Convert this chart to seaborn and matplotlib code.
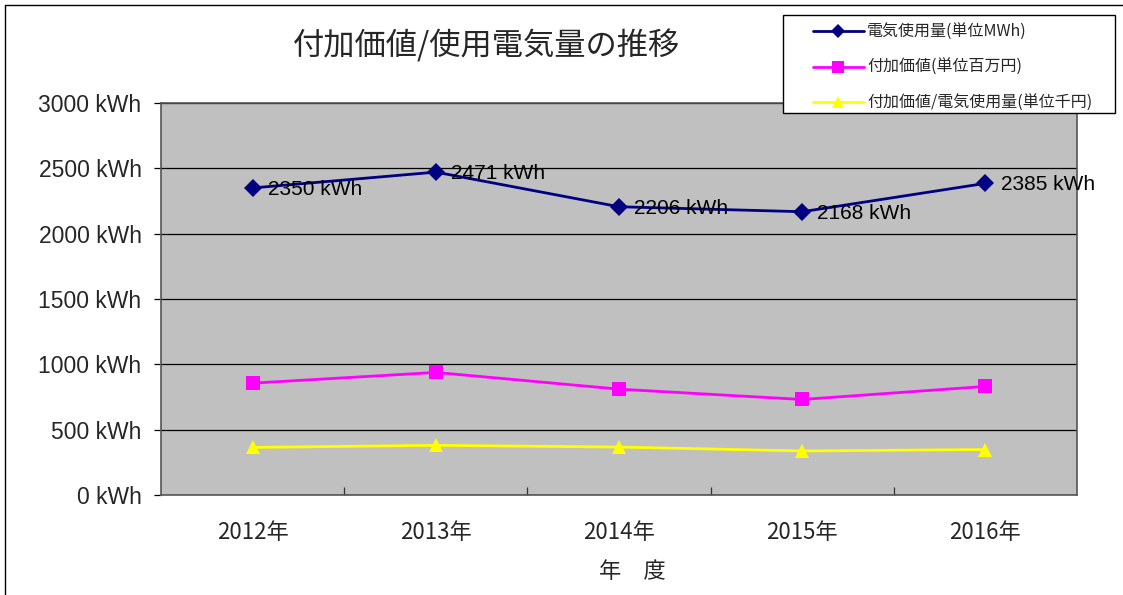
import matplotlib
matplotlib.use("Agg")
import matplotlib.pyplot as plt
import seaborn as sns
import pandas as pd
from matplotlib.ticker import FixedLocator
from matplotlib.lines import Line2D
from matplotlib.patches import Rectangle

# Data
years = ["2012年", "2013年", "2014年", "2015年", "2016年"]
power_use = [2350, 2471, 2206, 2168, 2385]        # 電気使用量(単位MWh)
value_added = [856, 938, 810, 731, 831]           # 付加価値(単位百万円)
value_per_power = [364, 380, 367, 337, 348]       # 付加価値/電気使用量(単位千円)

series_names = ["電気使用量(単位MWh)", "付加価値(単位百万円)", "付加価値/電気使用量(単位千円)"]
series_colors = ["#000080", "#FF00FF", "#FFFF00"]
series_markers = ["D", "s", "^"]
series_sizes = [9, 10, 10]

sns.set_style("white")
plt.rcParams["font.family"] = ["Liberation Sans", "Noto Sans CJK JP"]
jp = ["Noto Sans CJK JP", "Liberation Sans"]

fig = plt.figure(figsize=(11.23, 5.95), dpi=100)
ax = fig.add_axes([161 / 1123, 1 - 495 / 595, (1077 - 161) / 1123, (495 - 103) / 595])
ax.set_facecolor("#C0C0C0")

all_values = [power_use, value_added, value_per_power]
for vals, color, marker, ms in zip(all_values, series_colors, series_markers, series_sizes):
    sns.lineplot(x=years, y=vals, ax=ax, color=color, linewidth=2.0,
                 marker=marker, markersize=ms, markeredgewidth=0, sort=False, zorder=3)

# data labels for electricity use
for i, v in enumerate(power_use):
    ax.annotate(f"{v} kWh", (i, v), xytext=(11, -1), textcoords="offset points",
                ha="left", va="center", fontsize=15, color="black", zorder=4)

ax.set_xlim(-0.5, len(years) - 0.5)
ax.set_ylim(0, 3000)
ax.set_yticks(range(0, 3001, 500))
ax.set_yticklabels([f"{t} kWh" for t in range(0, 3001, 500)])
ax.yaxis.grid(True, color="black", linewidth=0.9)
ax.xaxis.grid(False)
ax.set_axisbelow(True)
ax.tick_params(axis="y", which="major", left=True, direction="out", length=5,
               width=0.9, color="black", pad=9, labelsize=16.5)
ax.tick_params(axis="x", which="major", bottom=False, pad=15, labelsize=16)
for lbl in ax.get_xticklabels():
    lbl.set_family(jp)
ax.xaxis.set_minor_locator(FixedLocator([0.5, 1.5, 2.5, 3.5]))
ax.tick_params(axis="x", which="minor", bottom=True, direction="in", length=6,
               width=0.9, color="#333333")
for side in ["left", "bottom", "right", "top"]:
    ax.spines[side].set_visible(True)
    ax.spines[side].set_color("#555555")
    ax.spines[side].set_linewidth(1.2)
ax.set_xlabel("")
ax.set_ylabel("")

fig.text(486 / 1123, 1 - 46 / 595, "付加価値/使用電気量の推移", ha="center", va="center",
         fontsize=22.5, family=jp)
fig.text(632 / 1123, 1 - 572 / 595, "年　度", ha="center", va="center",
         fontsize=16, family=jp)

# legend box drawn separately so the inner padding matches the reference
fig.add_artist(Rectangle((783 / 1123, 1 - 113 / 595), (1115 - 783) / 1123, (113 - 15) / 595,
                         transform=fig.transFigure, facecolor="white", edgecolor="black",
                         linewidth=1.0, zorder=9))
handles = [Line2D([], [], color=c, marker=m, markersize=s * 0.8, markeredgewidth=0, linewidth=2.0)
           for c, m, s in zip(series_colors, series_markers, series_sizes)]
leg = fig.legend(handles, series_names, loc="upper left",
                 bbox_to_anchor=(808 / 1123, 1 - 19 / 595),
                 frameon=False, handlelength=3.2, labelspacing=1.15, borderpad=0.3,
                 prop={"family": jp, "size": 11.5}, handletextpad=0.2, borderaxespad=0)
leg.set_zorder(10)

# outer border of the chart area
fig.add_artist(plt.Line2D([5 / 1123, 5 / 1123], [0, 1 - 5 / 595], transform=fig.transFigure,
                          color="black", linewidth=1.0))
fig.add_artist(plt.Line2D([5 / 1123, 1], [1 - 5 / 595, 1 - 5 / 595], transform=fig.transFigure,
                          color="black", linewidth=1.0))

fig.savefig("out.png", dpi=100)
